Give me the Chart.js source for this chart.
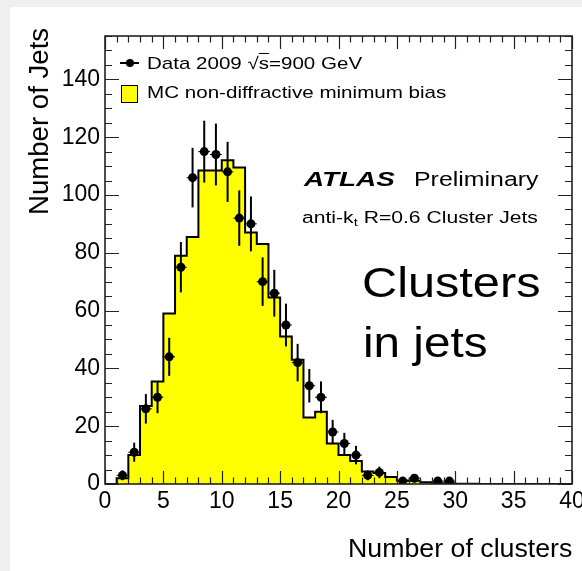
<!DOCTYPE html>
<html lang="en">
<head>
    <meta charset="UTF-8">
    <title>Clusters in jets</title>
    <style>
        body {
            margin: 0;
            background-color: #fff;
        }
        #wrap {
            position: relative;
            width: 582px;
            height: 571px;
            background-color: #fff;
            overflow: hidden;
        }
        .edge-top {
            position: absolute;
            left: 0; top: 0;
            width: 582px; height: 7px;
            background-color: #efefef;
        }
        .edge-left {
            position: absolute;
            left: 0; top: 0;
            width: 10px; height: 571px;
            background-color: #efefef;
        }
        #chart {
            position: absolute;
            left: 0; top: 0;
        }
        .txt {
            position: absolute;
            font-family: "Liberation Sans", Arial, sans-serif;
            line-height: 1;
            white-space: nowrap;
            color: #000;
            transform-origin: 0 0;
        }
        .txt sub {
            font-size: 70%;
            vertical-align: -0.3em;
            line-height: 0;
        }
        .ovl {
            text-decoration: overline;
        }
        .leg-line {
            position: absolute;
            left: 120px; top: 62px;
            width: 19px; height: 2px;
            background-color: #000;
        }
        .leg-dot {
            position: absolute;
            left: 125.5px; top: 59px;
            width: 8px; height: 8px;
            border-radius: 50%;
            background-color: #000;
        }
        .leg-box {
            position: absolute;
            left: 120.5px; top: 85px;
            width: 15px; height: 15.5px;
            border: 1px solid #000;
            background-color: #ffff00;
        }
    </style>
    <script src="https://cdn.jsdelivr.net/npm/chart.js"></script>
</head>
<body>
<div id="wrap">
    <div class="edge-top"></div>
    <div class="edge-left"></div>
    <canvas id="chart" width="582" height="571"></canvas>

    <div class="leg-line"></div>
    <div class="leg-dot"></div>
    <div class="leg-box"></div>
    <div class="txt" data-w="215" style="left:146.7px; top:54.5px; font-size:17px;">Data 2009 √<span class="ovl">s</span>=900 GeV</div>
    <div class="txt" data-w="299" style="left:146.7px; top:84px; font-size:17px;">MC non-diffractive minimum bias</div>

    <div class="txt" data-w="91" style="left:304px; top:169.3px; font-size:20.5px; font-weight:bold; font-style:italic;">ATLAS</div>
    <div class="txt" data-w="125" style="left:414px; top:169.3px; font-size:20.5px;">Preliminary</div>
    <div class="txt" data-w="236" style="left:301.7px; top:209.2px; font-size:16.3px;">anti-k<sub>t</sub> R=0.6 Cluster Jets</div>

    <div class="txt" data-w="179" style="left:361.7px; top:261.1px; font-size:42.7px;">Clusters</div>
    <div class="txt" data-w="125" style="left:362.7px; top:320.5px; font-size:42.7px;">in jets</div>

    <div class="txt" data-w="224" style="left:348px; top:534.9px; font-size:26.5px;">Number of clusters</div>
    <div class="txt" data-w="187" data-rot="1" style="left:25.5px; top:215px; font-size:27px;">Number of Jets</div>
</div>

<script>
    // unit-width bins, 0..40 clusters
    const binEdges = [0, 1, 2, 3, 4, 5, 6, 7, 8, 9, 10, 11, 12, 13, 14, 15, 16, 17, 18, 19, 20,
                      21, 22, 23, 24, 25, 26, 27, 28, 29, 30, 31, 32, 33, 34, 35, 36, 37, 38, 39, 40];

    // MC non-diffractive minimum bias, one value per bin
    const mcCounts = [0, 2, 10, 27, 35.5, 59, 79, 85.5, 108.5, 108.5,
                      112, 109.5, 87, 83, 64.5, 51, 43, 23, 25, 14,
                      10, 8, 4.3, 3.8, 2.4, 1.2, 1.1, 0.6, 0.3, 0.3,
                      0.1, 0.1, 0, 0, 0, 0, 0, 0, 0, 0];

    // Data 2009, filled bins only
    const dataCenters = [1.5, 2.5, 3.5, 4.5, 5.5, 6.5, 7.5, 8.5, 9.5, 10.5,
                         11.5, 12.5, 13.5, 14.5, 15.5, 16.5, 17.5, 18.5, 19.5, 20.5,
                         21.5, 22.5, 23.5, 25.5, 26.5, 28.5, 29.5];
    const dataCounts = [3, 11, 26, 30, 44, 75, 106, 115, 114, 108,
                        92, 90, 70, 66, 55, 42, 34, 30, 18, 14,
                        10, 3, 4, 1, 2, 1, 1];
    const dataErrors = [1.7, 3.3, 5.1, 5.5, 6.6, 8.7, 10.3, 10.7, 10.7, 10.4,
                        9.6, 9.5, 8.4, 8.1, 7.4, 6.5, 5.8, 5.5, 4.2, 3.7,
                        3.2, 1.7, 2.0, 1.0, 1.4, 1.0, 1.0];

    const xMin = 0, xMax = 40, xMajor = 5, xMinor = 1;
    const yMin = 0, yMax = 155, yMajor = 20, yMinor = 5;

    // stretch each label to its width
    document.querySelectorAll('.txt').forEach(el => {
        const s = (+el.dataset.w) / el.offsetWidth;
        el.style.transform = (el.dataset.rot ? 'rotate(-90deg) ' : '') + 'scaleX(' + s.toFixed(3) + ')';
    });

    // point i sits on the low edge of bin i; 'before' keeps its value up to the next edge
    const mcPoints = binEdges.map((e, i) => ({ x: e, y: i < mcCounts.length ? mcCounts[i] : 0 }));
    const dataPoints = dataCenters.map((c, i) => ({ x: c, y: dataCounts[i] }));

    // vertical + horizontal error bars under the data markers
    const errorBars = {
        id: 'errorBars',
        beforeDatasetDraw(chart, args) {
            if (args.index !== 1) return;
            const ctx = chart.ctx;
            const xs = chart.scales.x, ys = chart.scales.y;
            ctx.save();
            ctx.strokeStyle = '#000';
            dataCenters.forEach((c, i) => {
                const px = xs.getPixelForValue(c);
                ctx.lineWidth = 2;
                ctx.beginPath();
                ctx.moveTo(px, ys.getPixelForValue(dataCounts[i] - dataErrors[i]));
                ctx.lineTo(px, ys.getPixelForValue(dataCounts[i] + dataErrors[i]));
                ctx.stroke();
                const py = ys.getPixelForValue(dataCounts[i]);
                ctx.lineWidth = 1;
                ctx.beginPath();
                ctx.moveTo(xs.getPixelForValue(c - 0.5), py);
                ctx.lineTo(xs.getPixelForValue(c + 0.5), py);
                ctx.stroke();
            });
            ctx.restore();
        }
    };

    // box frame with inward ticks on all four sides
    const frame = {
        id: 'frame',
        afterDatasetsDraw(chart) {
            const ctx = chart.ctx;
            const a = chart.chartArea;
            const xs = chart.scales.x, ys = chart.scales.y;
            ctx.save();
            ctx.strokeStyle = '#222';
            ctx.lineWidth = 1.2;
            ctx.beginPath();
            for (let v = xMin; v <= xMax; v += xMinor) {
                const px = Math.round(xs.getPixelForValue(v)) + 0.5;
                const len = v % xMajor === 0 ? 13 : 6.5;
                ctx.moveTo(px, a.bottom); ctx.lineTo(px, a.bottom - len);
                ctx.moveTo(px, a.top); ctx.lineTo(px, a.top + len);
            }
            for (let v = yMin; v <= yMax; v += yMinor) {
                const py = Math.round(ys.getPixelForValue(v)) + 0.5;
                const len = v % yMajor === 0 ? 14 : 7;
                ctx.moveTo(a.left, py); ctx.lineTo(a.left + len, py);
                ctx.moveTo(a.right, py); ctx.lineTo(a.right - len, py);
            }
            ctx.stroke();
            ctx.lineWidth = 1.6;
            ctx.strokeRect(a.left, a.top, a.right - a.left, a.bottom - a.top);
            ctx.restore();
        }
    };

    new Chart(document.getElementById('chart'), {
        type: 'line',
        data: {
            datasets: [{
                label: 'MC non-diffractive minimum bias',
                data: mcPoints,
                stepped: 'before',
                fill: 'origin',
                backgroundColor: '#ffff00',
                borderColor: '#000',
                borderWidth: 2,
                pointRadius: 0,
                order: 1
            }, {
                label: 'Data 2009',
                data: dataPoints,
                showLine: false,
                pointRadius: 4.5,
                pointBackgroundColor: '#000',
                pointBorderWidth: 0,
                order: 0
            }]
        },
        options: {
            responsive: false,
            animation: false,
            devicePixelRatio: 1,
            layout: { padding: { top: 36, right: 10, left: 0, bottom: 0 } },
            plugins: {
                legend: { display: false },
                tooltip: { enabled: false }
            },
            scales: {
                x: {
                    type: 'linear',
                    min: xMin,
                    max: xMax,
                    grid: { display: false, drawTicks: false },
                    border: { display: false },
                    afterFit: s => { s.height = 87; s.paddingLeft = 0; s.paddingRight = 0; },
                    ticks: {
                        stepSize: xMajor,
                        autoSkip: false,
                        maxRotation: 0,
                        padding: 4,
                        color: '#000',
                        font: { family: 'Liberation Sans', size: 23 }
                    }
                },
                y: {
                    min: yMin,
                    max: yMax,
                    grid: { display: false, drawTicks: false },
                    border: { display: false },
                    afterFit: s => { s.width = 105; s.paddingTop = 0; s.paddingBottom = 0; },
                    ticks: {
                        stepSize: yMajor,
                        includeBounds: false,
                        padding: 5,
                        color: '#000',
                        font: { family: 'Liberation Sans', size: 23 }
                    }
                }
            }
        },
        plugins: [errorBars, frame]
    });
</script>
</body>
</html>
